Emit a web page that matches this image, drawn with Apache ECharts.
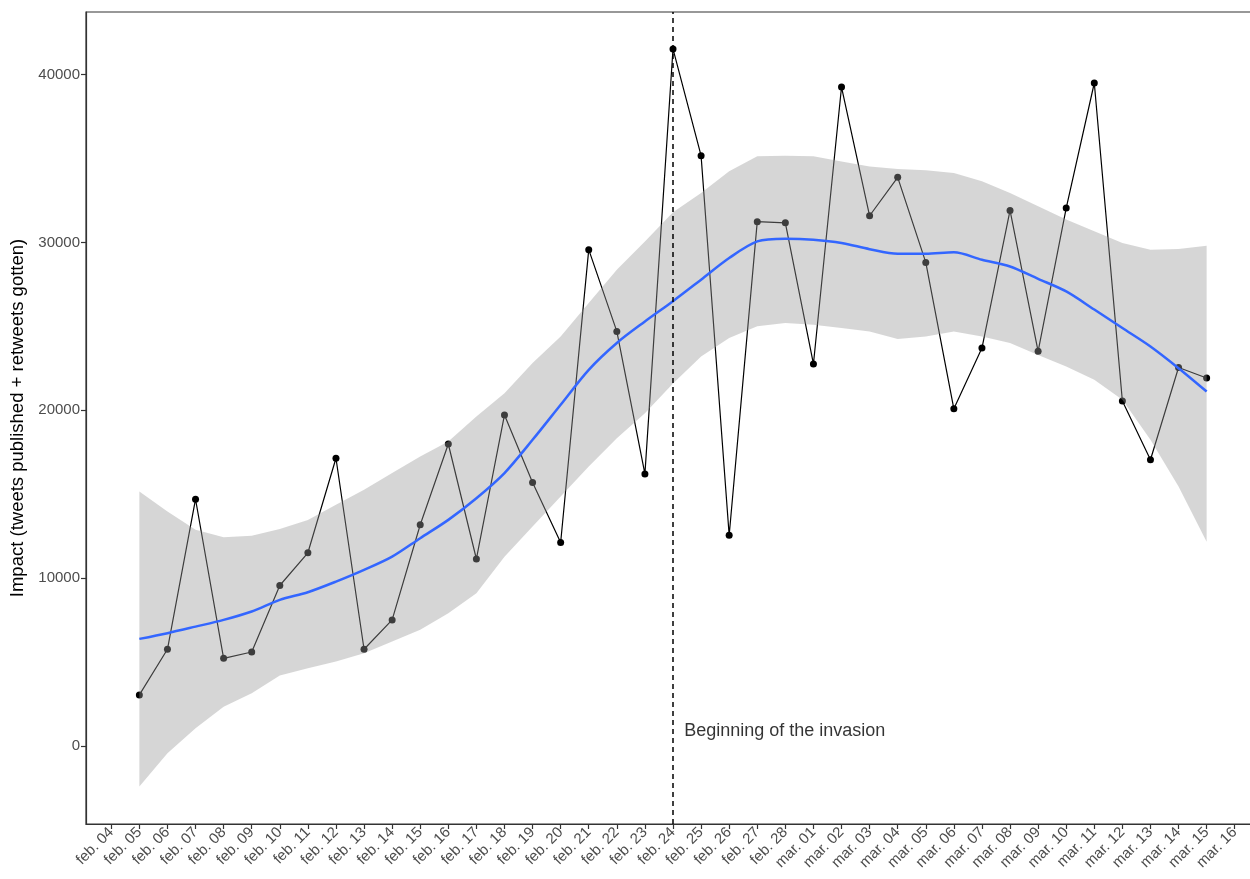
<!DOCTYPE html>
<html>
<head>
<meta charset="utf-8">
<script src="https://cdn.jsdelivr.net/npm/echarts@6/dist/echarts.min.js"></script>
<style>
html,body{margin:0;padding:0;background:#fff;}
#chart{width:1250px;height:879px;}
</style>
</head>
<body>
<div id="chart"></div>
<script>
// Tick labels (index 0 = feb. 04 ... 40 = mar. 16)
const tickLabels = ['feb. 04','feb. 05','feb. 06','feb. 07','feb. 08','feb. 09','feb. 10','feb. 11','feb. 12','feb. 13','feb. 14','feb. 15','feb. 16','feb. 17','feb. 18','feb. 19','feb. 20','feb. 21','feb. 22','feb. 23','feb. 24','feb. 25','feb. 26','feb. 27','feb. 28','mar. 01','mar. 02','mar. 03','mar. 04','mar. 05','mar. 06','mar. 07','mar. 08','mar. 09','mar. 10','mar. 11','mar. 12','mar. 13','mar. 14','mar. 15','mar. 16'];
// Data days: feb. 05 (index 1) ... mar. 15 (index 39)
const impact = [3040,5760,14700,5220,5600,9560,11510,17140,5760,7510,13180,17990,11140,19720,15700,12120,29570,24700,16210,41530,35170,12550,31240,31170,22760,39260,31590,33880,28810,20090,23710,31910,23510,32050,39500,20550,17050,22550,21920];
const smoothFit = [6380,6720,7110,7510,8010,8700,9160,9790,10490,11280,12380,13470,14760,16260,18240,20330,22410,24010,25290,26500,27780,29070,30060,30220,30160,29970,29600,29330,29330,29410,28970,28570,27830,27080,26000,24900,23800,22510,21120];
const bandUpper = [15160,13970,12880,12440,12520,12930,13470,14370,15260,16260,17250,18140,19630,21020,22810,24400,26390,28380,30060,31800,32950,34240,35130,35170,35130,34830,34530,34380,34300,34140,33640,32950,32150,31360,30660,29970,29570,29610,29810];
const bandLower = [-2420,-440,1050,2340,3140,4200,4630,5030,5530,6220,6920,7910,9100,11280,13070,14860,16650,18340,19830,21600,23210,24300,25000,25200,25100,24900,24700,24240,24400,24700,24400,24010,23300,22610,21820,20630,18240,15460,12170];
const yTicks = [0,10000,20000,30000,40000];
const invasionDay = 20; // feb. 24
const annotationText = 'Beginning of the invasion';
const annotationPos = [20.4, 890];

const firstDay = 1;
const xs = impact.map((_, i) => i + firstDay);
const tickIdx = tickLabels.map((_, i) => i);
const FONT = 'Liberation Sans, Arial, sans-serif';

const chart = echarts.init(document.getElementById('chart'), null, {renderer: 'canvas'});
chart.setOption({
  animation: false,
  backgroundColor: '#ffffff',
  grid: {left: 86, top: 12, width: 1174, height: 812, containLabel: false, outerBoundsMode: 'none',
    show: true, borderColor: '#333333', borderWidth: 1.2, backgroundColor: 'transparent'},
  xAxis: {
    type: 'value', min: -0.9, max: 40.9,
    splitLine: {show: false},
    axisLine: {show: true, onZero: false, lineStyle: {color: '#333333', width: 1.2}},
    axisTick: {show: true, length: 5, customValues: tickIdx, lineStyle: {color: '#333333', width: 1.2}},
    axisLabel: {customValues: tickIdx, rotate: 45, margin: 6, color: '#4d4d4d', fontSize: 15, fontFamily: FONT,
      formatter: v => tickLabels[Math.round(v)]}
  },
  yAxis: {
    type: 'value', min: -4650, max: 43730,
    name: 'Impact (tweets published + retweets gotten)',
    nameLocation: 'middle', nameGap: 57,
    nameTextStyle: {color: '#000', fontSize: 18.5, fontFamily: FONT},
    splitLine: {show: false},
    axisLine: {show: true, onZero: false, lineStyle: {color: '#333333', width: 1.2}},
    axisTick: {show: true, length: 5, customValues: yTicks, lineStyle: {color: '#333333', width: 1.2}},
    axisLabel: {customValues: yTicks, margin: 6, color: '#4d4d4d', fontSize: 15, fontFamily: FONT,
      formatter: v => String(Math.round(v))}
  },
  series: [
    {
      type: 'line', name: 'impact', z: 2,
      data: xs.map((x, i) => [x, impact[i]]),
      symbol: 'circle', symbolSize: 7,
      itemStyle: {color: '#000'},
      lineStyle: {color: '#000', width: 1.2}
    },
    {
      type: 'custom', name: 'band', z: 3,
      data: [[xs[0], bandLower[0]]],
      encode: {x: 0, y: 1},
      renderItem: function (params, api) {
        const pts = [];
        for (let i = 0; i < xs.length; i++) pts.push(api.coord([xs[i], bandUpper[i]]));
        for (let i = xs.length - 1; i >= 0; i--) pts.push(api.coord([xs[i], bandLower[i]]));
        return {type: 'polygon', shape: {points: pts}, style: {fill: 'rgba(153,153,153,0.4)', stroke: null}, silent: true};
      }
    },
    {
      type: 'line', name: 'smooth', z: 4,
      data: xs.map((x, i) => [x, smoothFit[i]]),
      symbol: 'none', smooth: 0.3,
      lineStyle: {color: '#3366FF', width: 2.5}
    },
    {
      type: 'scatter', name: 'annotation', z: 5,
      data: [annotationPos],
      symbolSize: 0,
      label: {show: true, position: 'right', distance: 0, formatter: annotationText, color: '#000', fontSize: 18, fontFamily: FONT},
      markLine: {
        silent: true, symbol: 'none', label: {show: false},
        lineStyle: {color: '#000', type: [5, 4], width: 1.5},
        data: [{xAxis: invasionDay}]
      }
    }
  ]
});
</script>
</body>
</html>
